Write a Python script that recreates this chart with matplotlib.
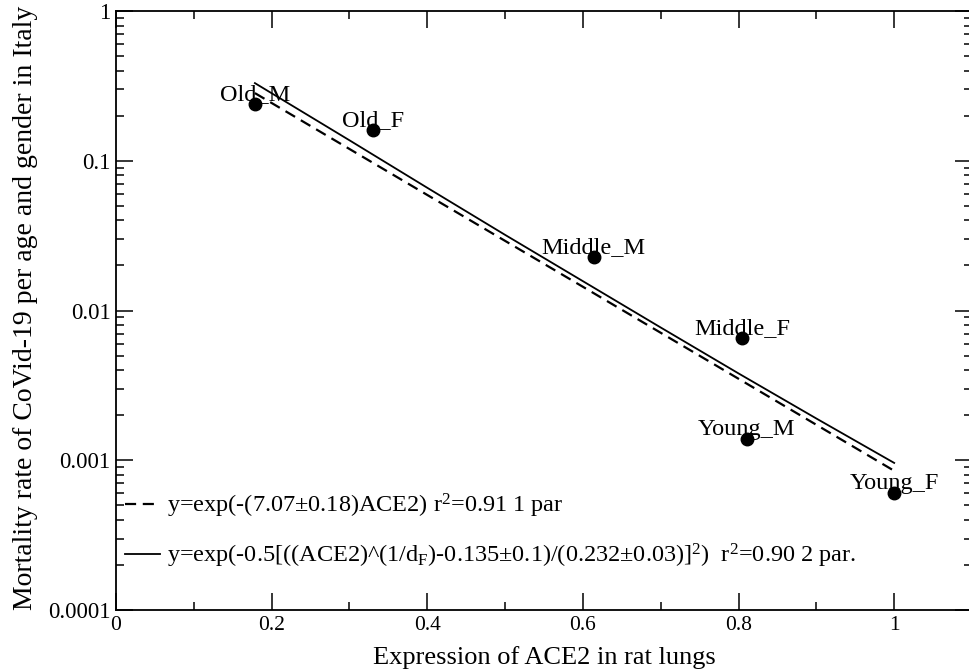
import numpy as np
import matplotlib
matplotlib.use("Agg")
from matplotlib import pyplot as plt
from matplotlib.ticker import MultipleLocator, LogLocator, FuncFormatter, NullFormatter

plt.rcParams['font.family'] = ['Liberation Serif', 'DejaVu Serif']
plt.rcParams['mathtext.fontset'] = 'custom'
plt.rcParams['mathtext.rm'] = 'Liberation Serif'
plt.rcParams['mathtext.it'] = 'Liberation Serif:italic'

# measured groups
names = ["Old_M", "Old_F", "Middle_M", "Middle_F", "Young_M", "Young_F"]
ace2 = [0.1785, 0.330, 0.614, 0.8045, 0.8105, 1.0]
mortality = [0.239, 0.160, 0.0229, 0.00658, 0.00139, 0.0006]

# fit curves
fit1_x = [0.1785, 0.4, 0.6, 0.8, 1.0]
fit1_y = [0.283, 0.0591, 0.0144, 0.0035, 0.00085]
fit2_x = [0.1785, 0.3, 0.4, 0.5, 0.6, 0.7, 0.8, 0.9, 1.0]
fit2_y = [0.330, 0.137, 0.066, 0.032, 0.0157, 0.0077, 0.0038, 0.0019, 0.00096]

fit1_label = r"y=exp(-(7.07$\pm$0.18)ACE2) r$^{\mathregular{2}}$=0.91 1 par"
fit2_label = (r"y=exp(-0.5[((ACE2)^(1/d$_{\mathregular{F}}$)-0.135$\pm$0.1)/(0.232$\pm$0.03)]$^{\mathregular{2}}$)"
              r"  r$^{\mathregular{2}}$=0.90 2 par.")

fig = plt.figure(figsize=(9.69, 6.71), dpi=100)
ax = fig.add_axes([0.1197, 0.0909, 0.8834, 0.8927])

ax.plot(fit1_x, fit1_y, color="black", lw=1.6, dashes=(5, 3), label=fit1_label)
ax.plot(fit2_x, fit2_y, color="black", lw=1.3, label=fit2_label)
ax.plot(ace2, mortality, "o", color="black", ms=9, zorder=3)

for n, xv, yv in zip(names, ace2, mortality):
    ax.annotate(n, (xv, yv), xytext=(0, 4), textcoords="offset pixels",
                ha="center", va="baseline", fontsize=17.5)

ax.set_yscale("log")
ax.set_xlim(0, 1.1)
ax.set_ylim(1e-4, 1)

ax.xaxis.set_major_locator(MultipleLocator(0.2))
ax.xaxis.set_minor_locator(MultipleLocator(0.1))
ax.xaxis.set_major_formatter(FuncFormatter(lambda v, p: f"{v:g}"))
ax.yaxis.set_major_locator(LogLocator(base=10, numticks=10))
ax.yaxis.set_minor_locator(LogLocator(base=10, subs=np.arange(2, 10), numticks=20))
ax.yaxis.set_major_formatter(FuncFormatter(lambda v, p: f"{v:g}"))
ax.yaxis.set_minor_formatter(NullFormatter())

ax.tick_params(which="both", direction="in", top=True, right=True, width=1.1)
ax.tick_params(which="major", length=12)
ax.tick_params(which="minor", length=6)
ax.tick_params(axis="x", pad=4, labelsize=15.5)
ax.tick_params(axis="y", pad=4, labelsize=16.5)
for s in ax.spines.values():
    s.set_linewidth(1.3)

ax.set_xlabel("Expression of ACE2 in rat lungs", fontsize=19, va="baseline")
ax.set_ylabel("Mortality rate of CoVid-19 per age and gender in Italy", fontsize=20)
ax.xaxis.set_label_coords(0.5, -0.090)
ax.yaxis.set_label_coords(-0.091, 0.504)

ax.legend(loc="center left", bbox_to_anchor=(0.0105, 0.132), frameon=False,
          fontsize=17.5, handlelength=1.44, handletextpad=0.29, labelspacing=0.9,
          borderpad=0, borderaxespad=0)

fig.savefig("out.png", dpi=100)
